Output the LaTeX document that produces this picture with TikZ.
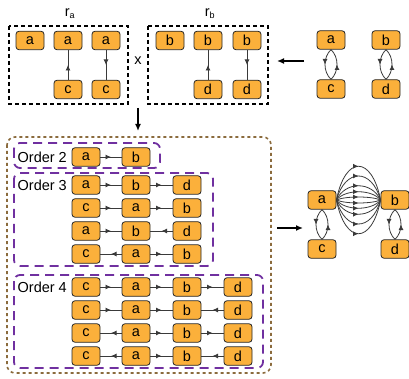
\documentclass[tikz,border=0pt]{standalone}
\usepackage{fontspec}
\setmainfont{Liberation Sans}
\usetikzlibrary{arrows.meta,decorations.markings}
\definecolor{nodefill}{HTML}{FBB03B}
\definecolor{brownbox}{HTML}{8B6B3D}
\definecolor{purplebox}{HTML}{7030A0}
\definecolor{linegray}{HTML}{3A3A3A}
\begin{document}
\begin{tikzpicture}[x=1pt,y=-1pt,
  every node/.style={font=\fontsize{14.5}{15}\selectfont},
  vbox/.style={draw=black!85, line width=0.8pt, fill=nodefill, rounded corners=3pt,
    minimum width=28pt, minimum height=18.5pt, inner sep=0pt},
  midarr/.style={draw=linegray, line width=0.8pt, postaction={decorate},
    decoration={markings, mark=at position 0.5 with {\arrow{Latex[length=5.5pt,width=5pt]}}}},
  bigarrow/.style={draw=black, line width=1.6pt, -{Latex[length=7pt,width=6pt]}},
  blackbox/.style={draw=black, line width=2pt, dash pattern=on 4pt off 3pt},
  brownrect/.style={draw=brownbox, line width=1.6pt, dash pattern=on 3pt off 3pt, rounded corners=8pt},
  purplerect/.style={draw=purplebox, line width=1.8pt, dash pattern=on 9pt off 6pt, rounded corners=6pt},
  lbl/.style={inner sep=0pt, anchor=east}
]
\useasboundingbox (0,0) rectangle (409,379);

% ---------- top left: r_a ----------
\draw[blackbox] (9,26) rectangle (128,104);
\node (ra) at (70,14) {r\textsubscript{\fontsize{9}{9}\selectfont a}};
\node[vbox] (ra1) at (30,40.5) {a};
\node[vbox] (ra2) at (68,40.5) {a};
\node[vbox] (ra3) at (106,40.5) {a};
\node[vbox] (rc2) at (68,89.5) {c};
\node[vbox] (rc3) at (106,89.5) {c};
\draw[midarr] (rc2) -- (ra2);
\draw[midarr] (ra3) -- (rc3);

\node (times) at (138,61) {x};

% ---------- top: r_b ----------
\draw[blackbox] (148,26) rectangle (268,104);
\node (rb) at (210,14) {r\textsubscript{\fontsize{9}{9}\selectfont b}};
\node[vbox] (rb1) at (170,40.5) {b};
\node[vbox] (rb2) at (208,40.5) {b};
\node[vbox] (rb3) at (247,40.5) {b};
\node[vbox] (rd2) at (208,89.5) {d};
\node[vbox] (rd3) at (247,89.5) {d};
\draw[midarr] (rd2) -- (rb2);
\draw[midarr] (rb3) -- (rd3);

% ---------- top right ----------
\node[vbox] (ta) at (331,40) {a};
\node[vbox] (tc) at (331,89) {c};
\node[vbox] (tb) at (386,40) {b};
\node[vbox] (td) at (386,89) {d};
\draw[midarr] (ta.south) .. controls (323,57) and (323,72) .. (tc.north);
\draw[midarr] (tc.north) .. controls (339,72) and (339,57) .. (ta.south);
\draw[midarr] (tb.south) .. controls (378,57) and (378,72) .. (td.north);
\draw[midarr] (td.north) .. controls (394,72) and (394,57) .. (tb.south);

\coordinate (lt1) at (304,61);
\coordinate (lt2) at (277,61);
\draw[bigarrow] (lt1) -- (lt2);

\coordinate (dn1) at (138,108);
\coordinate (dn2) at (138,131);
\draw[bigarrow] (dn1) -- (dn2);

% ---------- bottom boxes ----------
\draw[brownrect] (7,137) rectangle (271,373);
\draw[purplerect] (14,143) rectangle (160,168);
\draw[purplerect] (14,173) rectangle (213,266);
\draw[purplerect] (14,275) rectangle (263,368);

% Order 2
\node[lbl] (o2) at (67,157) {Order 2};
\node[vbox] (o2a) at (86,157) {a};
\node[vbox] (o2b) at (136,157) {b};
\draw[midarr] (o2a) -- (o2b);

% Order 3
\node[lbl] (o3) at (67,185) {Order 3};
\node[vbox] (p1a) at (86,185) {a};
\node[vbox] (p1b) at (136,185) {b};
\node[vbox] (p1c) at (187,185) {d};
\draw[midarr] (p1a) -- (p1b);
\draw[midarr] (p1b) -- (p1c);

\node[vbox] (p2a) at (86,208) {c};
\node[vbox] (p2b) at (136,208) {a};
\node[vbox] (p2c) at (187,208) {b};
\draw[midarr] (p2a) -- (p2b);
\draw[midarr] (p2b) -- (p2c);

\node[vbox] (p3a) at (86,231) {a};
\node[vbox] (p3b) at (136,231) {b};
\node[vbox] (p3c) at (187,231) {d};
\draw[midarr] (p3a) -- (p3b);
\draw[midarr] (p3c) -- (p3b);

\node[vbox] (p4a) at (86,254) {c};
\node[vbox] (p4b) at (136,254) {a};
\node[vbox] (p4c) at (187,254) {b};
\draw[midarr] (p4b) -- (p4a);
\draw[midarr] (p4b) -- (p4c);

% Order 4
\node[lbl] (o4) at (67,287) {Order 4};
\foreach \r/\y in {1/287,2/310,3/333,4/356}{
  \node[vbox] (q\r a) at (86,\y) {c};
  \node[vbox] (q\r b) at (136,\y) {a};
  \node[vbox] (q\r c) at (187,\y) {b};
  \node[vbox] (q\r d) at (238,\y) {d};
  \draw[midarr] (q\r b) -- (q\r c);
}
\draw[midarr] (q1a) -- (q1b);
\draw[midarr] (q1c) -- (q1d);
\draw[midarr] (q2a) -- (q2b);
\draw[midarr] (q2d) -- (q2c);
\draw[midarr] (q3b) -- (q3a);
\draw[midarr] (q3c) -- (q3d);
\draw[midarr] (q4b) -- (q4a);
\draw[midarr] (q4d) -- (q4c);

% ---------- right graph ----------
\coordinate (rt1) at (277,228);
\coordinate (rt2) at (303,228);
\draw[bigarrow] (rt1) -- (rt2);

\node[vbox] (ga) at (322,200) {a};
\node[vbox] (gb) at (395,200) {b};
\node[vbox] (gc) at (322,249) {c};
\node[vbox] (gd) at (395,249) {d};
\foreach \k in {-45,-32,-19,-11,-4,4,11,19,32,45}{
  \draw[midarr] (ga.east) .. controls ([xshift=9pt,yshift=\k pt]ga.east) and ([xshift=-9pt,yshift=\k pt]gb.west) .. (gb.west);
}
\draw[midarr] (ga.south) .. controls (314,217) and (314,232) .. (gc.north);
\draw[midarr] (gc.north) .. controls (330,232) and (330,217) .. (ga.south);
\draw[midarr] (gb.south) .. controls (387,217) and (387,232) .. (gd.north);
\draw[midarr] (gd.north) .. controls (403,232) and (403,217) .. (gb.south);
\end{tikzpicture}
\end{document}
